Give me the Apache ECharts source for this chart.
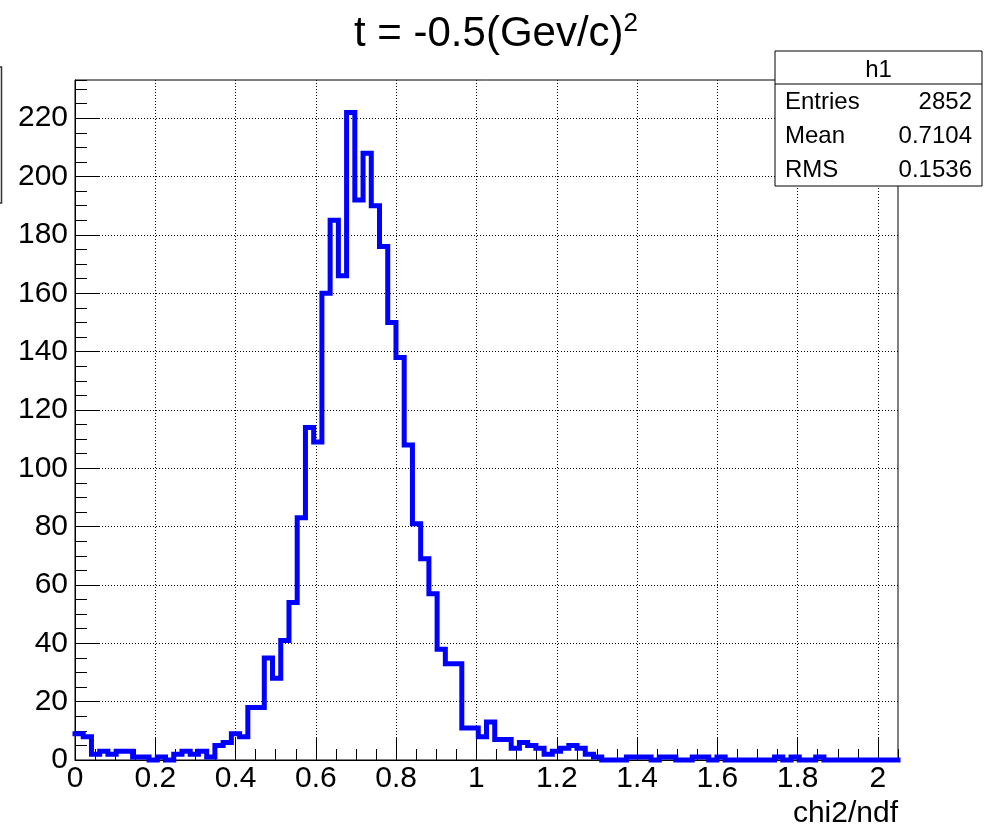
<!DOCTYPE html>
<html>
<head>
<meta charset="utf-8">
<script src="https://cdn.jsdelivr.net/npm/echarts@6/dist/echarts.min.js"></script>
<style>
  html, body { margin: 0; padding: 0; background: #fff; }
  #main { width: 992px; height: 833px; }
</style>
</head>
<body>
<div id="main"></div>
<script>
// Histogram h1 of chi2/ndf: 100 equal bins on [0, 2.05]
const xMin = 0;
const xMax = 2.05;
const counts = [
  9, 8, 2, 3, 2, 3, 3, 1, 1, 0,
  1, 0, 2, 3, 2, 3, 1, 5, 6, 9,
  8, 18, 18, 35, 28, 41, 54, 83, 114, 109,
  160, 185, 166, 222, 192, 208, 190, 176, 150, 138,
  108, 81, 69, 57, 38, 33, 33, 11, 11, 8,
  13, 7, 7, 4, 6, 5, 4, 2, 3, 4,
  5, 4, 2, 1, 0, 0, 0, 1, 1, 1,
  0, 1, 1, 0, 0, 1, 1, 0, 1, 0,
  0, 0, 0, 0, 0, 1, 0, 1, 0, 0,
  1, 0, 0, 0, 0, 0, 0, 0, 0, 0
];
const yMax = 233.1;

// Axis tick values
const xMajorTicks = [0, 0.2, 0.4, 0.6, 0.8, 1, 1.2, 1.4, 1.6, 1.8, 2];
const yMajorTicks = [0, 20, 40, 60, 80, 100, 120, 140, 160, 180, 200, 220];
const xMinorStep = 0.05;
const yMinorStep = 5;

// Text
const titleMain = 't = -0.5(Gev/c)';
const titleSup = '2';
const xAxisTitle = 'chi2/ndf';
const statsName = 'h1';
const statsLabels = ['Entries', 'Mean', 'RMS'];
const statsValues = ['2852', '0.7104', '0.1536'];

const FONT = '"Liberation Sans", Arial, Helvetica, sans-serif';

// Step outline: each bin edge carries the bin content, closed at the upper limit
const binW = (xMax - xMin) / counts.length;
const outline = counts.map((c, i) => [xMin + i * binW, c]);
outline.push([xMax, counts[counts.length - 1]]);

const chart = echarts.init(document.getElementById('main'), null, { renderer: 'canvas' });

const statsGraphics = [
  { type: 'rect', shape: { x: 775, y: 51, width: 207, height: 135 },
    style: { fill: '#fff', stroke: '#000', lineWidth: 1 }, z: 10 },
  { type: 'line', shape: { x1: 775, y1: 84, x2: 982, y2: 84 },
    style: { stroke: '#000', lineWidth: 1 }, z: 11 },
  { type: 'text', x: 878.5, y: 70, z: 11,
    style: { text: statsName, font: '24px ' + FONT, fill: '#000',
             textAlign: 'center', textVerticalAlign: 'middle' } }
];
statsLabels.forEach((lab, i) => {
  const y = 102 + i * 34.2;
  statsGraphics.push({ type: 'text', x: 785, y: y, z: 11,
    style: { text: lab, font: '24px ' + FONT, fill: '#000',
             textAlign: 'left', textVerticalAlign: 'middle' } });
  statsGraphics.push({ type: 'text', x: 972, y: y, z: 11,
    style: { text: statsValues[i], font: '24px ' + FONT, fill: '#000',
             textAlign: 'right', textVerticalAlign: 'middle' } });
});

const option = {
  animation: false,
  backgroundColor: '#fff',
  title: {
    text: '{m|' + titleMain + '}{s|' + titleSup + '}',
    left: 'center',
    top: 6,
    textStyle: {
      fontWeight: 'normal',
      rich: {
        m: { fontSize: 42, fontFamily: FONT, fontWeight: 'normal', color: '#000', lineHeight: 46 },
        s: { fontSize: 26, fontFamily: FONT, fontWeight: 'normal', color: '#000', lineHeight: 26, verticalAlign: 'top' }
      }
    }
  },
  grid: {
    left: 75, right: 94, top: 80, bottom: 73,
    show: true, borderColor: '#000', borderWidth: 1, backgroundColor: 'transparent',
    containLabel: false, outerBoundsMode: 'none'
  },
  xAxis: [
    {
      type: 'value', min: xMin, max: xMax, position: 'bottom',
      axisLine: { show: true, lineStyle: { color: '#000', width: 1 } },
      axisTick: { show: true, inside: true, length: 22, lineStyle: { color: '#000', width: 1 },
                  customValues: xMajorTicks },
      axisLabel: { show: true, color: '#000', fontSize: 30, fontFamily: FONT, margin: 4,
                   customValues: xMajorTicks, formatter: v => String(+v.toFixed(2)) },
      splitLine: { show: true, lineStyle: { color: '#000', width: 1, type: [1, 2] } }
    },
    {
      type: 'value', min: xMin, max: xMax, interval: xMinorStep, position: 'bottom',
      axisLine: { show: false },
      axisTick: { show: true, inside: true, length: 11, lineStyle: { color: '#000', width: 1 } },
      axisLabel: { show: false },
      splitLine: { show: false }
    }
  ],
  yAxis: [
    {
      type: 'value', min: 0, max: yMax, position: 'left',
      axisLine: { show: true, lineStyle: { color: '#000', width: 1 } },
      axisTick: { show: true, inside: true, length: 24, lineStyle: { color: '#000', width: 1 },
                  customValues: yMajorTicks },
      axisLabel: { show: true, color: '#000', fontSize: 30, fontFamily: FONT, margin: 7,
                   customValues: yMajorTicks },
      splitLine: { show: true, lineStyle: { color: '#000', width: 1, type: [1, 2] } }
    },
    {
      type: 'value', min: 0, max: yMax, interval: yMinorStep, position: 'left',
      axisLine: { show: false },
      axisTick: { show: true, inside: true, length: 12, lineStyle: { color: '#000', width: 1 } },
      axisLabel: { show: false },
      splitLine: { show: false }
    }
  ],
  series: [
    {
      type: 'line',
      xAxisIndex: 0, yAxisIndex: 0,
      data: outline,
      step: 'end',
      showSymbol: false,
      symbol: 'none',
      clip: false,
      lineStyle: { color: '#0000ff', width: 5, join: 'miter', cap: 'square' },
      z: 5
    }
  ],
  graphic: [
    { type: 'rect', shape: { x: -30, y: 67, width: 31.5, height: 136 },
      style: { fill: 'none', stroke: '#333', lineWidth: 1.5 }, z: 10 },
    { type: 'text', x: 898, y: 814, z: 10,
      style: { text: xAxisTitle, font: '30px ' + FONT, fill: '#000',
               textAlign: 'right', textVerticalAlign: 'middle' } }
  ].concat(statsGraphics)
};

chart.setOption(option);
</script>
</body>
</html>
